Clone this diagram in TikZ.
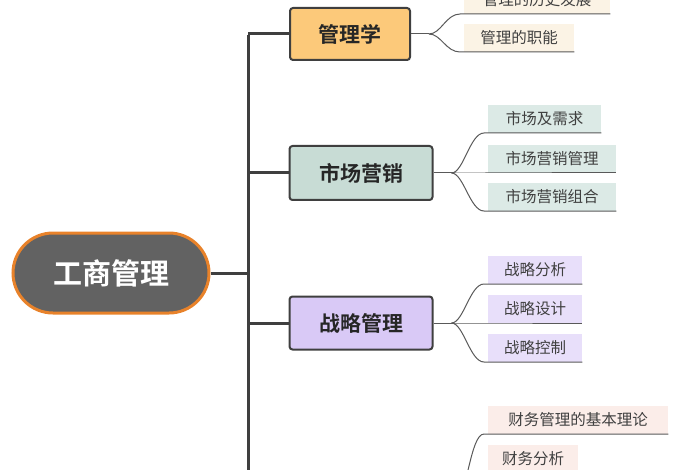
\documentclass[tikz,border=0pt]{standalone}
\usepackage{fontspec}
\setmainfont{Noto Sans CJK SC}[BoldFont=* Bold]
\usetikzlibrary{positioning, calc}

\definecolor{trunkgray}{HTML}{3F3F3F}
\definecolor{rootfill}{HTML}{626262}
\definecolor{rootedge}{HTML}{E8822A}
\definecolor{mgmtfill}{HTML}{FCC97A}
\definecolor{mktfill}{HTML}{C8DCD5}
\definecolor{stratfill}{HTML}{D9C9F6}
\definecolor{mgmtleaf}{HTML}{FBF3E5}
\definecolor{mktleaf}{HTML}{DCEAE6}
\definecolor{stratleaf}{HTML}{E8DFFA}
\definecolor{finleaf}{HTML}{FBEDE9}

\begin{document}
\begin{tikzpicture}[
    x=1pt, y=-1pt,
    trunk/.style={draw=trunkgray, line width=3pt},
    twig/.style={draw=gray!70!black, line width=1pt}, % thin lines to the leaves
    branch/.style={draw=trunkgray, line width=2pt, rounded corners=3pt, minimum height=52pt,
      inner xsep=0pt, font={\fontsize{21}{21}\selectfont\bfseries}, text=black!85},
    leaf/.style={anchor=south west, inner xsep=10pt, minimum height=28pt, align=left, font={\fontsize{15.5}{15.5}\selectfont}, text=black!75},
  ]
  \useasboundingbox (0,0) rectangle (700,470);
  \clip (0,0) rectangle (700,470);

  % root and trunk
  \node[draw=rootedge, fill=rootfill, line width=3pt, rounded corners=40pt, minimum width=196pt, minimum height=80pt,
    text=white, font={\fontsize{29}{29}\selectfont\bfseries}] (root) at (111,273) {工商管理};
  \coordinate (ttop) at (248,35);
  \coordinate (tbot) at (248,480);
  \draw[trunk] (root.east) -- (248,273);
  \draw[trunk] (ttop) -- (tbot);

  % branches
  \node[branch, fill=mgmtfill, minimum width=120pt, minimum height=52pt] (mgmt) at (350,34) {管理学};
  \node[branch, fill=mktfill, minimum width=143pt, minimum height=54pt] (mkt) at (361,173) {市场营销};
  \node[branch, fill=stratfill, minimum width=143pt, minimum height=53pt] (strat) at (361,323) {战略管理};
  \coordinate (fin) at (437,500);
  \foreach \b in {mgmt, mkt, strat}
    \draw[trunk] (\b.west -| ttop) -- (\b.west);

  % leaves
  \node[leaf, fill=mgmtleaf, minimum width=146pt] (m1) at (464,14) {管理的历史发展};
  \node[leaf, fill=mgmtleaf, minimum width=110pt] (m2) at (464,52) {管理的职能};
  \node[leaf, fill=mktleaf, minimum width=113pt] (k1) at (488,133) {市场及需求};
  \node[leaf, fill=mktleaf, minimum width=128pt] (k2) at (488,173) {市场营销管理};
  \node[leaf, fill=mktleaf, minimum width=128pt] (k3) at (488,211) {市场营销组合};
  \node[leaf, fill=stratleaf, minimum width=94pt] (s1) at (488,284) {战略分析};
  \node[leaf, fill=stratleaf, minimum width=94pt] (s2) at (488,323) {战略设计};
  \node[leaf, fill=stratleaf, minimum width=94pt] (s3) at (488,362) {战略控制};
  \node[leaf, fill=finleaf, minimum width=180pt] (f1) at (488,434) {财务管理的基本理论};
  \node[leaf, fill=finleaf, minimum width=90pt] (f2) at (488,473) {财务分析};

  % twigs from each branch
  \foreach \b/\ls in {mgmt/{m1,m2}, mkt/{k1,k2,k3}, strat/{s1,s2,s3}, fin/{f1,f2}} {
    \coordinate (fan) at ($(\b.east)+(18,0)$);
    \draw[twig] (\b.east) -- (fan);
    \foreach \l in \ls
      \draw[twig] (fan) .. controls ($(fan)+(12,0)$) and ($(\l.south west)+(-18,0)$)
        .. ($(\l.south west)+(-4,0)$) -- (\l.south east);
  }
\end{tikzpicture}
\end{document}
